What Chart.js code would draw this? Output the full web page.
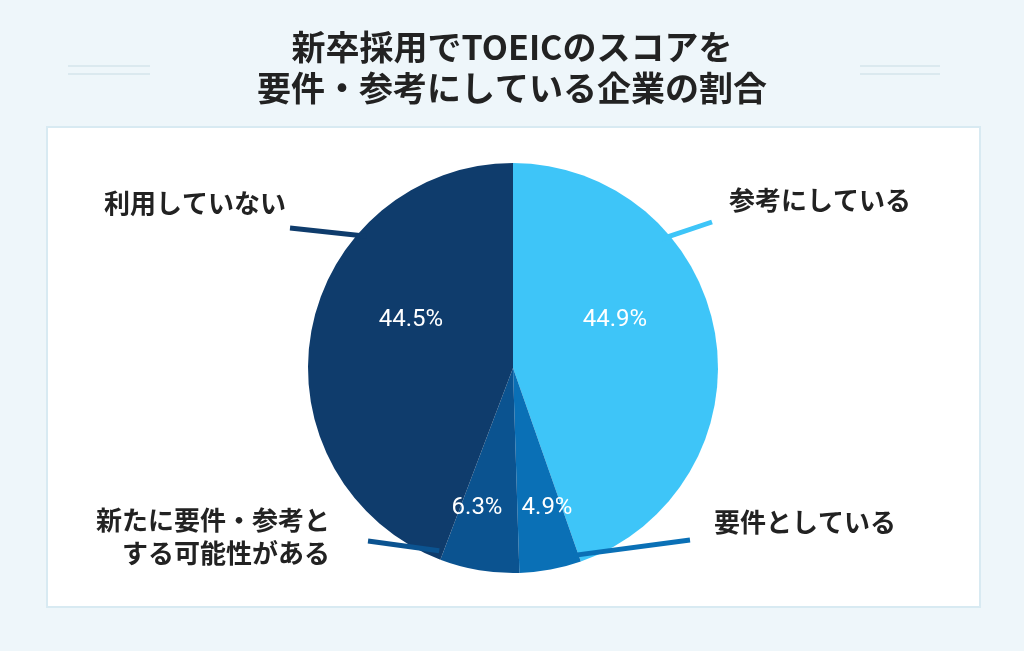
<!DOCTYPE html>
<html><head><meta charset="utf-8">
<script src="https://cdn.jsdelivr.net/npm/chart.js@4"></script>
<style>html,body{margin:0;padding:0;background:#eef6fa}canvas{display:block}</style>
</head><body>
<div style="width:1024px;height:651px"><canvas id="c"></canvas></div>
<script>
const titleLines = ["新卒採用でTOEICのスコアを", "要件・参考にしている企業の割合"];
const categories = ["参考にしている", "要件としている", "新たに要件・参考と\nする可能性がある", "利用していない"];
const values = [44.9, 4.9, 6.3, 44.5];
const colors = ["#3ec5f8", "#0a70b6", "#0b5390", "#0f3c6c"];
// per-slice label layout: [angle on rim (deg from top), line end x,y, text x,y, align]
const labelLayout = [
  [49, 712, 222, 820, 200, "center"],
  [162, 690, 540, 805, 522, "center"],
  [202, 368, 541, 330, 520, "right"],
  [312, 290, 228, 195, 203, "center"]
];
const pctPos = [[615,320],[547,508],[477,508],[411,320]];
const font = "'Noto Sans CJK JP','Noto Sans',sans-serif";
const deco = {
  id:'deco',
  beforeDraw(ch){
    const c=ch.ctx;c.save();
    c.fillStyle='#eef6fa';c.fillRect(0,0,ch.width,ch.height);
    c.fillStyle='#fff';c.fillRect(47,127,933,480);
    c.strokeStyle='#d8eaf2';c.lineWidth=2;c.strokeRect(47,127,933,480);
    c.strokeStyle='#dbe9ef';c.lineWidth=2;
    [[68,150],[860,940]].forEach(([a,b])=>{[66,74].forEach(y=>{c.beginPath();c.moveTo(a,y);c.lineTo(b,y);c.stroke();});});
    c.fillStyle='#222';c.font="bold 34px "+font;c.textAlign='center';c.textBaseline='middle';
    c.fillText(titleLines[0],512,47);c.fillText(titleLines[1],512,88);
    c.restore();
  },
  afterDraw(ch){
    const c=ch.ctx;const arc=ch.getDatasetMeta(0).data[0];
    const cx=arc.x,cy=arc.y,r=arc.outerRadius;
    c.save();
    labelLayout.forEach((L,i)=>{
      const a=L[0]*Math.PI/180;
      const sx=cx+Math.sin(a)*(r-8), sy=cy-Math.cos(a)*(r-8);
      c.strokeStyle=colors[i];c.lineWidth=5;c.beginPath();c.moveTo(sx,sy);c.lineTo(L[1],L[2]);c.stroke();
      c.fillStyle='#222';c.font="bold 26px "+font;c.textAlign=L[5];c.textBaseline='middle';
      categories[i].split("\n").forEach((t,k)=>c.fillText(t,L[3],L[4]+k*33));
    });
    c.fillStyle='#fff';c.font="24px Roboto,sans-serif";c.textAlign='center';
    values.forEach((v,i)=>c.fillText(v.toFixed(1)+"%",pctPos[i][0],pctPos[i][1]));
    c.restore();
  }
};
new Chart(document.getElementById('c'),{
  type:'pie',
  data:{labels:categories,datasets:[{data:values,backgroundColor:colors,borderWidth:0}]},
  options:{responsive:true,maintainAspectRatio:false,animation:false,
    layout:{padding:{left:300,right:298,top:163,bottom:78}},
    plugins:{legend:{display:false},tooltip:{enabled:false}}},
  plugins:[deco]
});
</script>
</body></html>
